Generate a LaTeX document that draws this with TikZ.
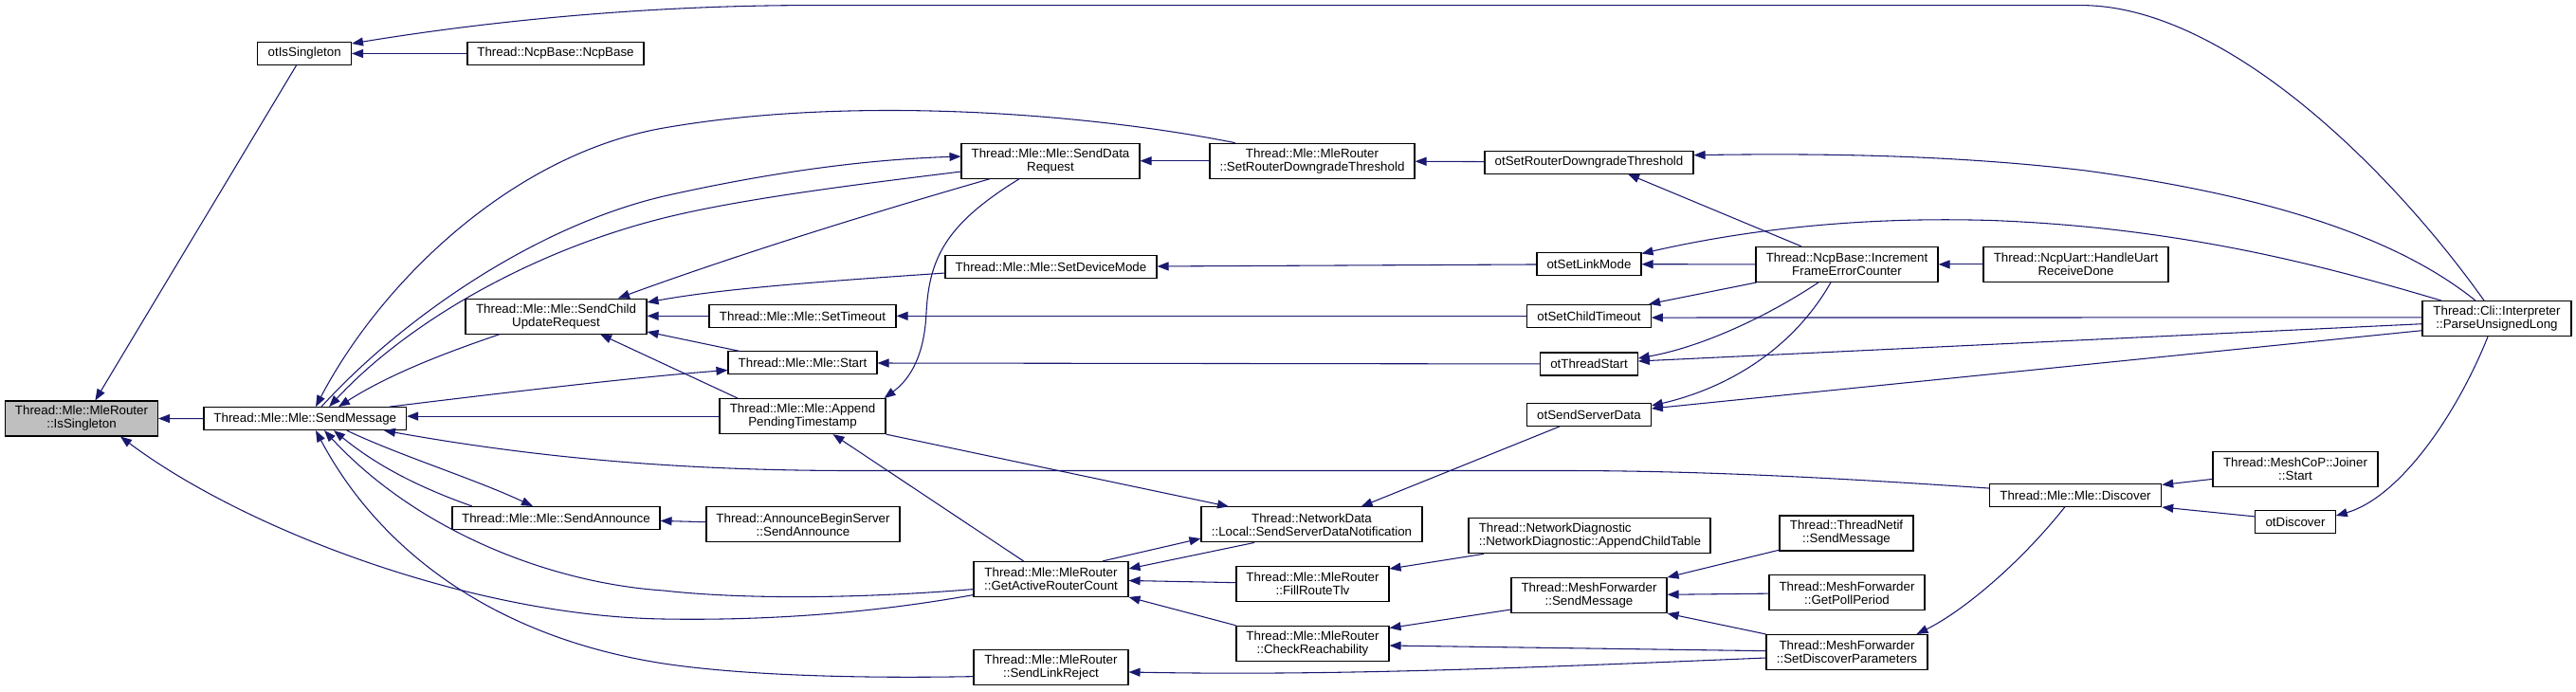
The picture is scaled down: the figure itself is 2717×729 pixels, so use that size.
\documentclass[tikz,border=0pt]{standalone}
\usepackage{fontspec}
\setmainfont{Liberation Sans}
\usetikzlibrary{arrows.meta, calc, positioning}
\definecolor{edgeblue}{HTML}{191970}
\definecolor{nodegray}{HTML}{BFBFBF}
\tikzset{
  % funzione del grafo delle chiamate
  fn/.style={draw=black, line width=0.8pt, fill=white, inner sep=0pt, align=center,
    minimum height=18pt, font=\fontsize{10}{10.5}\selectfont},
  fn2/.style={fn, minimum height=27.75pt},
  % funzione di partenza
  fnroot/.style={fn2, fill=nodegray},
  % chiamata
  call/.style={draw=edgeblue, line width=0.8pt, -{Triangle[length=9pt,width=6.75pt]}},
}

\begin{document}
\begin{tikzpicture}[x=0.75pt, y=-0.75pt]
  \useasboundingbox (0,0) rectangle (2717,729);
  % nodi
  \node[fnroot, minimum width=120.75pt] (isSingleton) at (86,441.5) {Thread::Mle::MleRouter\\::IsSingleton};
  \node[fn, minimum width=73.9pt] (otIsSingleton) at (321.2,56.5) {otIsSingleton};
  \node[fn, minimum width=139.5pt] (ncpBase) at (586,56.5) {Thread::NcpBase::NcpBase};
  \node[fn, minimum width=160.2pt] (sendMessage) at (321.8,441.6) {Thread::Mle::Mle::SendMessage};
  \node[fn2, minimum width=143.25pt] (sendChildUpd) at (586.5,333.6) {Thread::Mle::Mle::SendChild\\UpdateRequest};
  \node[fn, minimum width=164.25pt] (sendAnnounce) at (586.5,546.5) {Thread::Mle::Mle::SendAnnounce};
  \node[fn2, minimum width=141pt] (sendDataReq) at (1108,169.7) {Thread::Mle::Mle::SendData\\Request};
  \node[fn2, minimum width=162pt] (setRouterDG) at (1384,169.7) {Thread::Mle::MleRouter\\::SetRouterDowngradeThreshold};
  \node[fn, minimum width=167.25pt] (setDeviceMode) at (1108.5,281.5) {Thread::Mle::Mle::SetDeviceMode};
  \node[fn, minimum width=147.75pt] (setTimeout) at (846.5,333.3) {Thread::Mle::Mle::SetTimeout};
  \node[fn, minimum width=117.75pt] (mleStart) at (846.5,382.9) {Thread::Mle::Mle::Start};
  \node[fn2, minimum width=131.25pt] (appendPending) at (846.5,439.1) {Thread::Mle::Mle::Append\\PendingTimestamp};
  \node[fn2, minimum width=153pt] (abServerSend) at (847,553.4) {Thread::AnnounceBeginServer\\::SendAnnounce};
  \node[fn2, minimum width=174.75pt] (sendSrvDataNotif) at (1383.5,553.4) {Thread::NetworkData\\::Local::SendServerDataNotification};
  \node[fn2, minimum width=122.25pt] (getActiveRC) at (1108.5,610.9) {Thread::Mle::MleRouter\\::GetActiveRouterCount};
  \node[fn2, minimum width=120.75pt] (fillRouteTlv) at (1384.5,616.2) {Thread::Mle::MleRouter\\::FillRouteTlv};
  \node[fn2, minimum width=120.75pt] (checkReach) at (1384.5,678.8) {Thread::Mle::MleRouter\\::CheckReachability};
  \node[fn2, minimum width=122.25pt] (sendLinkReject) at (1108.5,704.3) {Thread::Mle::MleRouter\\::SendLinkReject};
  \node[fn, minimum width=165pt] (otSetRouterDG) at (1676,171.1) {otSetRouterDowngradeThreshold};
  \node[fn, minimum width=82.5pt] (otSetLinkMode) at (1676,278.7) {otSetLinkMode};
  \node[fn2, minimum width=144pt] (incFrameErr) at (1948,278.9) {Thread::NcpBase::Increment\\FrameErrorCounter};
  \node[fn, minimum width=97.9pt] (otSetChildTimeout) at (1676,333.3) {otSetChildTimeout};
  \node[fn, minimum width=76.9pt] (otThreadStart) at (1676,384) {otThreadStart};
  \node[fn, minimum width=97.9pt] (otSendServerData) at (1676,437.5) {otSendServerData};
  \node[fn2, minimum width=191.25pt, align=left, text width=175pt] (netDiagAppend) at (1676.5,565.3) {Thread::NetworkDiagnostic\\::NetworkDiagnostic::AppendChildTable};
  \node[fn2, minimum width=123pt] (meshSend) at (1676,628.1) {Thread::MeshForwarder\\::SendMessage};
  \node[fn2, minimum width=105.75pt] (netifSend) at (1947.5,562.5) {Thread::ThreadNetif\\::SendMessage};
  \node[fn2, minimum width=123pt] (pollPeriod) at (1948,625.3) {Thread::MeshForwarder\\::GetPollPeriod};
  \node[fn2, minimum width=127.5pt] (setDiscParams) at (1948,688) {Thread::MeshForwarder\\::SetDiscoverParameters};
  \node[fn2, minimum width=146.25pt] (handleUart) at (2189.5,278.9) {Thread::NcpUart::HandleUart\\ReceiveDone};
  \node[fn, minimum width=136pt] (mleDiscover) at (2189,522.5) {Thread::Mle::Mle::Discover};
  \node[fn2, minimum width=130.5pt] (joinerStart) at (2421,494.6) {Thread::MeshCoP::Joiner\\::Start};
  \node[fn, minimum width=63.4pt] (otDiscover) at (2421,550.7) {otDiscover};
  \node[fn2, minimum width=117.75pt] (parseUL) at (2633.5,336.1) {Thread::Cli::Interpreter\\::ParseUnsignedLong};

  % chiamate dritte
  \foreach \a/\b in {sendMessage/isSingleton, ncpBase/otIsSingleton, setRouterDG/sendDataReq,
    otSetLinkMode/setDeviceMode, otSetChildTimeout/setTimeout, otThreadStart/mleStart,
    abServerSend/sendAnnounce, fillRouteTlv/getActiveRC, otSetRouterDG/setRouterDG,
    incFrameErr/otSetLinkMode, handleUart/incFrameErr, pollPeriod/meshSend}
    \draw[call] (\a) -- (\b);

  \draw[call] ([xshift=-6.5pt]otIsSingleton.south) -- ([xshift=10.8pt]isSingleton.north);
  \draw[call] ([xshift=-10.1pt]parseUL.north) .. controls (2519,175) and (2345,5.6) .. (2195,5.6)
    -- (850,5.6) .. controls (650,6) and (480,28) .. ([yshift=-1.5pt]otIsSingleton.north east);
  \draw[call] ([yshift=-12.5pt]getActiveRC.west) .. controls (930,645) and (820,655) .. (700,653)
    .. controls (500,650) and (260,560) .. ([xshift=30.75pt]isSingleton.south);

  % attorno a SendMessage
  \draw[call] ([xshift=-61pt]setRouterDG.north) .. controls (1150,120) and (900,100) .. (700,135)
    .. controls (540,163) and (402,297.5) .. ([xshift=8.4pt]sendMessage.north);
  \draw[call] ([xshift=12.9pt]sendMessage.north) .. controls (420,340) and (560,240) .. (700,207)
    .. controls (820,180) and (920,168) .. ([yshift=3.5pt]sendDataReq.west);
  \draw[call] ([yshift=-8.5pt]sendDataReq.west) .. controls (900,195) and (780,210) .. (700,230)
    .. controls (560,265) and (430,340) .. ([xshift=19pt]sendMessage.north);
  \draw[call] ([xshift=-44.6pt]sendChildUpd.south) .. controls (470,372) and (410,395) .. ([xshift=26.4pt]sendMessage.north);
  \draw[call] ([xshift=66.9pt]sendMessage.north) .. controls (550,412) and (680,397) .. ([yshift=-5.7pt]mleStart.west);
  \draw[call] (appendPending.west) -- (sendMessage.east |- appendPending.west);
  \draw[call] ([xshift=33pt]sendMessage.south) .. controls (420,480) and (500,505) .. ([xshift=-18.4pt]sendAnnounce.north);
  \draw[call] ([xshift=-66.4pt]sendAnnounce.north) .. controls (430,510) and (390,485) .. ([xshift=22.7pt]sendMessage.south);
  \draw[call] ([yshift=-8pt]getActiveRC.west) .. controls (900,632) and (780,632) .. (700,623)
    .. controls (580,615) and (440,560) .. ([xshift=15.2pt]sendMessage.south);
  \draw[call] ([yshift=-7pt]sendLinkReject.west) .. controls (900,716) and (780,712) .. (700,700)
    .. controls (520,672) and (400,580) .. ([xshift=8.4pt]sendMessage.south);
  \draw[call] ([yshift=5.6pt]mleDiscover.west) .. controls (1950,505) and (1800,496.5) .. (1650,496.5)
    -- (900,496.5) .. controls (700,496.5) and (550,480) .. ([xshift=62.4pt]sendMessage.south);

  % attorno a SendChildUpdateRequest
  \draw[call] ([xshift=-48pt]sendDataReq.south) .. controls (900,230) and (760,275) .. ([xshift=49.1pt]sendChildUpd.north);
  \draw[call] ([yshift=-4.9pt]setDeviceMode.west) .. controls (850,298) and (760,305) .. ([yshift=11pt]sendChildUpd.east);
  \draw[call] (setTimeout.west) -- (sendChildUpd.east |- setTimeout.west);
  \draw[call] ([xshift=-49.9pt]mleStart.north) -- ([yshift=-12.3pt]sendChildUpd.east);
  \draw[call] ([xshift=-51.4pt]appendPending.north) -- ([xshift=34.9pt]sendChildUpd.south);

  % colonna centrale
  \draw[call] ([xshift=-24.75pt]sendDataReq.south) .. controls (1000,235) and (980,270) .. (977,330)
    .. controls (975,375) and (960,400) .. ([xshift=-1.5pt]appendPending.north east);
  \draw[call] (appendPending.south east) -- ([xshift=-65.6pt]sendSrvDataNotif.north);
  \draw[call] ([xshift=-21.75pt]getActiveRC.north) -- ([xshift=24pt]appendPending.south);
  \draw[call] ([xshift=40.9pt]getActiveRC.north) -- ([yshift=-11pt]sendSrvDataNotif.west);
  \draw[call] ([xshift=-45.4pt]sendSrvDataNotif.south) -- ([yshift=8.2pt]getActiveRC.east);
  \draw[call] (checkReach.north west) -- (getActiveRC.south east);
  \draw[call] ([yshift=-4.5pt]setDiscParams.west) .. controls (1600,705) and (1400,713) .. ([yshift=-3.5pt]sendLinkReject.east);
  \draw[call] ([xshift=-23.5pt]otSendServerData.south) -- ([xshift=39.1pt]sendSrvDataNotif.north);

  % funzioni ot*
  \draw[call] ([xshift=-16.9pt]parseUL.north) .. controls (2540,260) and (2420,210) .. (2200,180)
    .. controls (2050,162) and (1900,162) .. ([yshift=5.6pt]otSetRouterDG.east);
  \draw[call] ([xshift=-36pt]incFrameErr.north) -- ([xshift=30.75pt]otSetRouterDG.south);
  \draw[call] ([xshift=-43.9pt]parseUL.north) .. controls (2450,280) and (2300,240) .. (2100,232.5)
    .. controls (1950,228) and (1830,245) .. ([yshift=-1pt]otSetLinkMode.north east);
  \draw[call] ([xshift=1pt]incFrameErr.south west) -- ([xshift=-2pt]otSetChildTimeout.north east);
  \draw[call] ([yshift=0.9pt]parseUL.west) -- ([yshift=-1.3pt]otSetChildTimeout.east);
  \draw[call] ([xshift=-22.5pt]incFrameErr.south) .. controls (1870,330) and (1800,365) .. ([yshift=4.5pt]otThreadStart.east);
  \draw[call] ([yshift=-4.2pt]parseUL.west) -- ([yshift=2.25pt]otThreadStart.east);
  \draw[call] ([xshift=-12.75pt]incFrameErr.south) .. controls (1890,370) and (1820,410) .. ([yshift=7.1pt]otSendServerData.east);
  \draw[call] ([yshift=-9.45pt]parseUL.west) -- ([yshift=4.9pt]otSendServerData.east);

  % MeshForwarder e Discover
  \draw[call] ([xshift=-83.6pt]netDiagAppend.south) -- ([yshift=12.15pt]fillRouteTlv.east);
  \draw[call] ([yshift=-11.2pt]meshSend.west) -- ([yshift=12.2pt]checkReach.east);
  \draw[call] ([yshift=1pt]setDiscParams.west) -- ([yshift=-1.65pt]checkReach.east);
  \draw[call] ([yshift=1pt]netifSend.south west) -- (meshSend.north east);
  \draw[call] (setDiscParams.north west) -- (meshSend.south east);
  \draw[call] ([xshift=-8.5pt]mleDiscover.south) .. controls (2130,595) and (2070,645) .. ([xshift=55.1pt]setDiscParams.north);
  \draw[call] ([yshift=-8.1pt]joinerStart.west) -- ([yshift=8.3pt]mleDiscover.east);
  \draw[call] ([yshift=4.35pt]otDiscover.west) -- (mleDiscover.south east);
  \draw[call] ([xshift=-7.1pt]parseUL.south) .. controls (2590,440) and (2530,525) .. ([yshift=5pt]otDiscover.east);
\end{tikzpicture}
\end{document}
